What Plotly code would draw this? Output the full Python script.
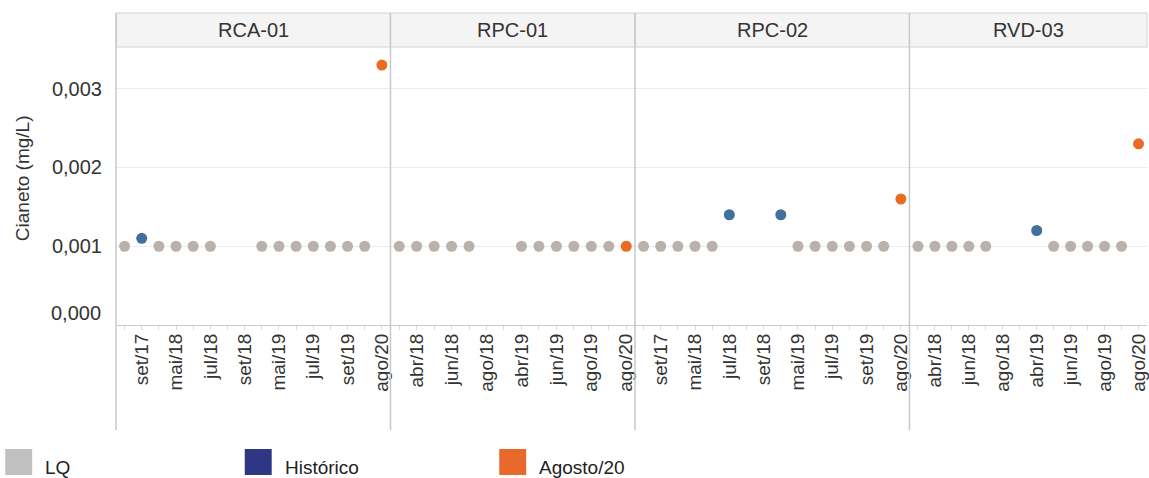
import plotly.graph_objects as go

# ---------------- data ----------------
panels = ["RCA-01", "RPC-01", "RPC-02", "RVD-03"]

cats_rca01 = ["ago/17", "set/17", "abr/18", "mai/18", "jun/18", "jul/18", "ago/18", "set/18",
              "abr/19", "mai/19", "jun/19", "jul/19", "ago/19", "set/19", "out/19", "ago/20"]
vals_rca01 = [0.001, 0.0011, 0.001, 0.001, 0.001, 0.001, None, None,
              0.001, 0.001, 0.001, 0.001, 0.001, 0.001, 0.001, 0.0033]
tipo_rca01 = ["LQ", "Histórico", "LQ", "LQ", "LQ", "LQ", None, None,
              "LQ", "LQ", "LQ", "LQ", "LQ", "LQ", "LQ", "Agosto/20"]

cats_rpc01 = ["mar/18", "abr/18", "mai/18", "jun/18", "jul/18", "ago/18", "set/18",
              "abr/19", "mai/19", "jun/19", "jul/19", "ago/19", "set/19", "ago/20"]
vals_rpc01 = [0.001, 0.001, 0.001, 0.001, 0.001, None, None,
              0.001, 0.001, 0.001, 0.001, 0.001, 0.001, 0.001]
tipo_rpc01 = ["LQ", "LQ", "LQ", "LQ", "LQ", None, None,
              "LQ", "LQ", "LQ", "LQ", "LQ", "LQ", "Agosto/20"]

cats_rpc02 = ["ago/17", "set/17", "abr/18", "mai/18", "jun/18", "jul/18", "ago/18", "set/18",
              "abr/19", "mai/19", "jun/19", "jul/19", "ago/19", "set/19", "out/19", "ago/20"]
vals_rpc02 = [0.001, 0.001, 0.001, 0.001, 0.001, 0.0014, None, None,
              0.0014, 0.001, 0.001, 0.001, 0.001, 0.001, 0.001, 0.0016]
tipo_rpc02 = ["LQ", "LQ", "LQ", "LQ", "LQ", "Histórico", None, None,
              "Histórico", "LQ", "LQ", "LQ", "LQ", "LQ", "LQ", "Agosto/20"]

cats_rvd03 = ["mar/18", "abr/18", "mai/18", "jun/18", "jul/18", "ago/18", "set/18",
              "abr/19", "mai/19", "jun/19", "jul/19", "ago/19", "set/19", "ago/20"]
vals_rvd03 = [0.001, 0.001, 0.001, 0.001, 0.001, None, None,
              0.0012, 0.001, 0.001, 0.001, 0.001, 0.001, 0.0023]
tipo_rvd03 = ["LQ", "LQ", "LQ", "LQ", "LQ", None, None,
              "Histórico", "LQ", "LQ", "LQ", "LQ", "LQ", "Agosto/20"]

y_ticks = [0.000, 0.001, 0.002, 0.003]
y_title = "Cianeto (mg/L)"
legend_items = ["LQ", "Histórico", "Agosto/20"]

# ---------------- styles ----------------
marker_colors = {"LQ": "#bab0ac", "Histórico": "#41709f", "Agosto/20": "#eb6a24"}
legend_colors = {"LQ": "#c0c0c0", "Histórico": "#2e3784", "Agosto/20": "#e8692b"}
FONT = "Arial, Liberation Sans, sans-serif"
TXT = "#333333"
LINE = "#c8c8c8"

W, H = 1149, 478
L, T, B = 116, 47, 325
PW, PH = W - L, B - T
panel_edges_px = [116, 391, 636, 911, 1149]


def px_x(x):
    return (x - L) / PW


def px_y(y):
    return (B - y) / PH


data = [
    (cats_rca01, vals_rca01, tipo_rca01),
    (cats_rpc01, vals_rpc01, tipo_rpc01),
    (cats_rpc02, vals_rpc02, tipo_rpc02),
    (cats_rvd03, vals_rvd03, tipo_rvd03),
]

domains = [[px_x(panel_edges_px[k]), px_x(panel_edges_px[k + 1])] for k in range(len(panels))]

fig = go.Figure()
layout = dict(
    width=W, height=H,
    margin=dict(l=L, r=0, t=T, b=H - B, pad=0),
    paper_bgcolor="white", plot_bgcolor="white",
    separators=",.",
    showlegend=False,
    font=dict(family=FONT, size=20, color=TXT),
)

shapes = []
annotations = []
y_range = [0, 0.00353]

for i, ((cats, vals, tipos), name) in enumerate(zip(data, panels)):
    xa = "x" if i == 0 else f"x{i+1}"
    ya = "y" if i == 0 else f"y{i+1}"
    for t in legend_items:
        xs = [c for c, v, tp in zip(cats, vals, tipos) if tp == t and v is not None]
        ys = [v for c, v, tp in zip(cats, vals, tipos) if tp == t and v is not None]
        fig.add_trace(go.Scatter(
            x=xs, y=ys, mode="markers", name=t, xaxis=xa, yaxis=ya,
            marker=dict(size=11, color=marker_colors[t], line=dict(width=0)),
            hovertemplate="%{x}: %{y:.4f}<extra>" + t + "</extra>",
        ))
    ticktext = [c if (k % 2 == 1) else "" for k, c in enumerate(cats)]
    layout["xaxis" if i == 0 else f"xaxis{i+1}"] = dict(
        domain=domains[i], anchor=ya, type="category",
        categoryorder="array", categoryarray=cats,
        range=[-0.5, len(cats) - 0.5],
        tickmode="array", tickvals=cats, ticktext=ticktext,
        tickangle=-90, tickfont=dict(size=19, color=TXT, family=FONT),
        ticks="outside", ticklen=4, tickcolor="#dcdcdc", ticklabelstandoff=-4,
        showline=True, linecolor=LINE, linewidth=1,
        showgrid=False, zeroline=False, fixedrange=True,
    )
    layout["yaxis" if i == 0 else f"yaxis{i+1}"] = dict(
        domain=[0, 1], anchor=xa, range=y_range,
        tickmode="array", tickvals=y_ticks[1:], tickformat=".3f",
        showticklabels=(i == 0), ticklabelstandoff=13,
        tickfont=dict(size=20, color=TXT, family=FONT),
        showgrid=True, gridcolor="#ececec", gridwidth=1,
        zeroline=False, showline=False, ticks="", fixedrange=True,
    )
    # header band
    hdr_top = px_y(13)
    shapes.append(dict(type="rect", xref="paper", yref="paper",
                       x0=domains[i][0], x1=domains[i][1], y0=1, y1=hdr_top,
                       fillcolor="#f4f4f4", line=dict(color="#d2d2d2", width=1), layer="below"))
    annotations.append(dict(text=name, xref="paper", yref="paper",
                            x=(domains[i][0] + domains[i][1]) / 2, y=(1 + hdr_top) / 2,
                            xanchor="center", yanchor="middle", showarrow=False,
                            font=dict(size=20, color=TXT, family=FONT)))
    # panel separator (left edge of each panel)
    shapes.append(dict(type="line", xref="paper", yref="paper",
                       x0=domains[i][0], x1=domains[i][0], y0=hdr_top, y1=px_y(430),
                       line=dict(color=LINE, width=1.5)))

# zero label shifted up (as in the reference)
annotations.append(dict(text=f"{y_ticks[0]:.3f}".replace(".", ","), xref="paper", yref="y",
                        x=0, y=y_ticks[0], xanchor="right", yanchor="middle", xshift=-13, yshift=12,
                        showarrow=False, font=dict(size=20, color=TXT, family=FONT)))
# y-axis title
annotations.append(dict(text=y_title, xref="paper", yref="paper",
                        x=px_x(22), y=px_y(178), textangle=-90,
                        xanchor="center", yanchor="middle", showarrow=False,
                        font=dict(size=19, color=TXT, family=FONT)))

# custom legend at the bottom
leg_x = [5, 245, 500]
for lx, t in zip(leg_x, legend_items):
    shapes.append(dict(type="rect", xref="paper", yref="paper",
                       x0=px_x(lx), x1=px_x(lx + 27), y0=px_y(449), y1=px_y(475),
                       fillcolor=legend_colors[t], line=dict(width=0)))
    annotations.append(dict(text=t, xref="paper", yref="paper",
                            x=px_x(lx + 38), y=px_y(467), xanchor="left", yanchor="middle",
                            showarrow=False, font=dict(size=19, color="#222222", family=FONT)))

layout["shapes"] = shapes
layout["annotations"] = annotations
fig.update_layout(**layout)

fig.write_html("out.html", config={"displayModeBar": False},
               post_script="document.body.style.margin='0';document.body.style.overflow='hidden';")
